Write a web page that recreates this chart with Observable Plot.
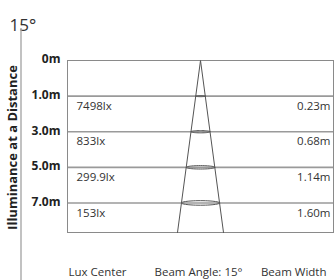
<!DOCTYPE html>
<html><head><meta charset="utf-8">
<script src="https://cdn.jsdelivr.net/npm/d3@7"></script>
<script src="https://cdn.jsdelivr.net/npm/@observablehq/plot@0.6"></script>
<style>
body{margin:0;background:#fff;}
#chart svg{display:block;font-family:"Open Sans",sans-serif;}
</style>
</head><body><div id="chart"></div>
<script>
const angleLabel = "15°";
const yTitle = "Illuminance at a Distance";
const distances = ["0m", "1.0m", "3.0m", "5.0m", "7.0m"];
const luxCenter = ["", "7498lx", "833lx", "299.9lx", "153lx"];
const beamWidth = ["", "0.23m", "0.68m", "1.14m", "1.60m"];
const footer = ["Lux Center", "Beam Angle: 15°", "Beam Width"];

const rows = distances.map((d, i) => ({i, d, lux: luxCenter[i], w: beamWidth[i]}));
const yMax = 4.83;          // bottom of the table (row units)
const spread = 0.0358;      // cone half-width per row unit (x units)
const cone = [{x: -spread * yMax, y: yMax}, {x: 0, y: 0}, {x: spread * yMax, y: yMax}];
const ellipses = rows.slice(1).flatMap(r => {
  const rx = spread * r.i, ry = 0.016 * r.i;
  return d3.range(0, 49).map(k => ({row: r.i,
    x: rx * Math.cos(k / 48 * 2 * Math.PI),
    y: r.i + ry * Math.sin(k / 48 * 2 * Math.PI)}));
});

const plot = Plot.plot({
  width: 335, height: 280,
  marginTop: 60, marginBottom: 48, marginLeft: 67, marginRight: 2,
  x: {domain: [-1, 1], axis: null},
  y: {domain: [0, yMax], reverse: true, axis: null},
  marks: [
    Plot.ruleY(rows.slice(1), {y: "i", stroke: "#9a9a9a", strokeWidth: 1.6}),
    Plot.frame({stroke: "#8a8a8a"}),
    Plot.line(cone, {x: "x", y: "y", stroke: "#555", strokeWidth: 1}),
    Plot.line(ellipses, {x: "x", y: "y", z: "row", stroke: "#555", strokeWidth: 1}),
    Plot.text(rows, {y: "i", text: "d", frameAnchor: "left", dx: -7, dy: -1, textAnchor: "end", fontWeight: "bold", fontSize: 12, fill: "#222"}),
    Plot.text(rows.slice(1), {y: "i", text: "lux", frameAnchor: "left", dx: 9, dy: 10, textAnchor: "start", fontSize: 11.5, fill: "#333"}),
    Plot.text(rows.slice(1), {y: "i", text: "w", frameAnchor: "right", dx: -3, dy: 10, textAnchor: "end", fontSize: 11.5, fill: "#333"}),
    Plot.text([{t: yTitle}], {text: "t", frameAnchor: "left", dx: -55, dy: 1, rotate: -90, textAnchor: "middle", fontWeight: "bold", fontSize: 13, fill: "#222"}),
    Plot.text([{t: angleLabel}], {text: "t", frameAnchor: "top-left", dx: -58, dy: -42, textAnchor: "start", fontSize: 17, fill: "#333"}),
    Plot.text([{t: footer[0]}], {text: "t", frameAnchor: "bottom-left", dx: 1, dy: 43, textAnchor: "start", fontSize: 11.5, fill: "#333"}),
    Plot.text([{t: footer[1]}], {text: "t", frameAnchor: "bottom", dx: -2, dy: 43, textAnchor: "middle", fontSize: 11.5, fill: "#333"}),
    Plot.text([{t: footer[2]}], {text: "t", frameAnchor: "bottom-right", dx: -7, dy: 43, textAnchor: "end", fontSize: 11.5, fill: "#333"})
  ]
});
document.getElementById("chart").appendChild(plot);
d3.select(plot).append("line")
  .attr("x1", 21).attr("x2", 21).attr("y1", 28).attr("y2", 280)
  .attr("stroke", "#999").attr("stroke-width", 1.2);
</script>
</body></html>
